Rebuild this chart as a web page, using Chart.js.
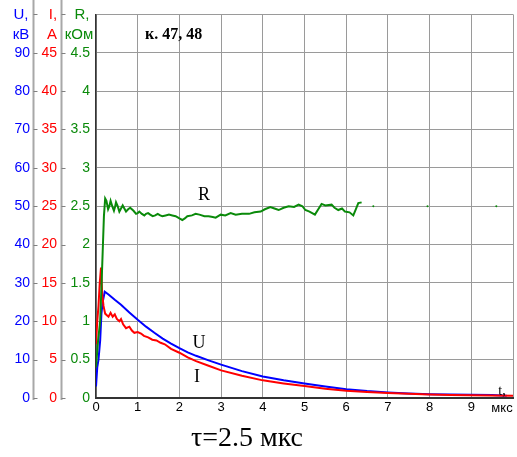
<!DOCTYPE html>
<html>
<head>
<meta charset="utf-8">
<script src="https://cdn.jsdelivr.net/npm/chart.js"></script>
<style>
    body { margin: 0; background: #fff; }
</style>
</head>
<body>
<canvas id="grafico" width="517" height="457"></canvas>
<script>
// tiempo, мкс
const tU = [0, 0.03, 0.06, 0.1, 0.13, 0.16, 0.21, 0.3, 0.45, 0.6, 0.8, 1.0, 1.2, 1.4, 1.6, 1.8, 2.0, 2.2, 2.4, 2.7,
    3.0, 3.5, 4.0, 4.5, 5.0, 5.5, 6.0, 6.5, 7.0, 7.5, 8.0, 8.5, 9.0, 9.5, 9.85];
// U, кВ
const U = [3, 8, 10, 15, 22, 25, 27.7, 27, 25.6, 24.3, 22.3, 20.4, 18.6, 17, 15.5, 14.2, 13, 11.9, 11, 9.8,
    8.7, 7.0, 5.6, 4.6, 3.8, 3.0, 2.3, 1.8, 1.45, 1.2, 1.0, 0.9, 0.85, 0.75, 0.6];

const tI = [0, 0.03, 0.06, 0.09, 0.12, 0.15, 0.18, 0.22, 0.26, 0.3, 0.35, 0.4, 0.45, 0.5, 0.56, 0.6, 0.65, 0.72, 0.8, 0.86,
    0.92, 1.0, 1.08, 1.15, 1.25, 1.35, 1.45, 1.55, 1.65, 1.8, 2.0, 2.2, 2.4, 2.7, 3.0, 3.5, 4.0, 4.5, 5.0, 5.5,
    6.0, 6.5, 7.0, 7.5, 8.0, 8.5, 9.0, 9.5, 10];
// I, A
const I = [7, 10, 12, 15, 17, 13.5, 12, 11, 10.8, 10.6, 11.1, 10.6, 10.9, 10.3, 10, 10.3, 9.6, 9.1, 9.3, 8.8,
    8.5, 8.6, 8.4, 8.1, 7.9, 7.6, 7.5, 7.2, 7.0, 6.4, 5.9, 5.3, 4.8, 4.2, 3.6, 2.9, 2.3, 1.9, 1.55, 1.2,
    0.95, 0.78, 0.65, 0.55, 0.47, 0.4, 0.35, 0.32, 0.3];

const tR = [0, 0.05, 0.1, 0.13, 0.16, 0.19, 0.22, 0.25, 0.29, 0.32, 0.35, 0.39, 0.43, 0.46, 0.48, 0.52, 0.56, 0.6, 0.64, 0.68,
    0.72, 0.77, 0.82, 0.9, 0.96, 1.0, 1.04, 1.1, 1.16, 1.2, 1.25, 1.3, 1.36, 1.42, 1.48, 1.54, 1.59, 1.67, 1.75, 1.83,
    1.91, 2.0, 2.07, 2.13, 2.19, 2.3, 2.39, 2.48, 2.6, 2.7, 2.8, 2.87, 2.93, 2.99, 3.1, 3.23, 3.35, 3.5, 3.67, 3.8,
    3.95, 4.05, 4.18, 4.28, 4.38, 4.5, 4.62, 4.75, 4.86, 4.95, 5.02, 5.12, 5.25, 5.33, 5.41, 5.5, 5.65, 5.72, 5.81, 5.9,
    5.97, 6.08, 6.17, 6.23, 6.29, 6.37];
// R, кОм
const R = [0.4, 0.75, 1.0, 1.43, 1.9, 2.37, 2.6, 2.57, 2.46, 2.5, 2.57, 2.5, 2.44, 2.5, 2.55, 2.5, 2.43, 2.47, 2.51, 2.47,
    2.43, 2.46, 2.48, 2.44, 2.4, 2.41, 2.43, 2.4, 2.38, 2.4, 2.41, 2.39, 2.37, 2.38, 2.4, 2.38, 2.37, 2.38, 2.39, 2.38,
    2.37, 2.34, 2.32, 2.34, 2.37, 2.38, 2.40, 2.39, 2.37, 2.37, 2.36, 2.35, 2.37, 2.39, 2.38, 2.41, 2.39, 2.40, 2.40, 2.42,
    2.43, 2.46, 2.49, 2.47, 2.45, 2.48, 2.5, 2.49, 2.52, 2.5, 2.45, 2.43, 2.39, 2.46, 2.53, 2.51, 2.52, 2.48, 2.45, 2.47,
    2.43, 2.42, 2.38, 2.46, 2.54, 2.55];
// puntos sueltos de R
const tRsuelto = [6.65, 7.95, 9.6];
const Rsuelto = [2.5, 2.5, 2.5];

const AZUL = '#0000ff', ROJO = '#ff0000', VERDE = '#0a8a0a';

function puntos(t, v) {
    return t.map((x, i) => ({ x: x, y: v[i] }));
}

// textos y ejes grises
const decoracion = {
    id: 'decoracion',
    afterDraw(chart) {
        const c = chart.ctx;
        const area = chart.chartArea;
        c.save();

        // lineas grises de U e I con marcas hacia la derecha
        ['yU', 'yI'].forEach(id => {
            const s = chart.scales[id];
            const x = Math.round(s.right) + 0.5;
            c.strokeStyle = '#a8a8a8';
            c.lineWidth = 2;
            c.beginPath();
            c.moveTo(x, 0);
            c.lineTo(x, area.bottom + 2);
            c.stroke();
            c.strokeStyle = '#808080';
            c.lineWidth = 1;
            s.ticks.forEach(tk => {
                const y = Math.round(s.getPixelForValue(tk.value)) + 0.5;
                c.beginPath();
                c.moveTo(x, y);
                c.lineTo(x + 4, y);
                c.stroke();
            });
        });

        c.textAlign = 'center';
        c.textBaseline = 'middle';
        c.font = '15px "Liberation Sans", Arial, sans-serif';
        c.fillStyle = AZUL;
        c.fillText('U,', 21, 15);
        c.fillText('кВ', 21, 35);
        c.fillStyle = ROJO;
        c.fillText('I,', 53, 15);
        c.fillText('A', 52, 35);
        c.fillStyle = VERDE;
        c.fillText('R,', 82, 15);
        c.fillText('кОм', 79, 35);

        c.fillStyle = '#000';
        c.font = '13px "Liberation Sans", Arial, sans-serif';
        c.fillText('мкс', 502, 408);

        c.textBaseline = 'alphabetic';
        c.font = '14px "Liberation Serif", "Times New Roman", serif';
        c.fillText('t,', 502, 395);

        c.font = '18px "Liberation Serif", "Times New Roman", serif';
        c.fillText('R', 204, 200);
        c.fillText('U', 199, 348);
        c.fillText('I', 197, 382);

        c.font = 'bold 16px "Liberation Serif", "Times New Roman", serif';
        c.textAlign = 'left';
        c.fillText('к. 47, 48', 145, 39);

        c.textAlign = 'center';
        c.font = '28px "Liberation Serif", "Times New Roman", serif';
        c.fillText('τ=2.5 мкс', 247, 446);
        c.restore();
    }
};

const fuenteEje = { family: '"Liberation Sans", Arial, sans-serif', size: 14 };

new Chart(document.getElementById('grafico'), {
    type: 'line',
    data: {
        datasets: [
            { label: 'R', data: puntos(tR, R), yAxisID: 'yR', borderColor: VERDE, borderWidth: 2, order: 0 },
            { label: 'R2', data: puntos(tRsuelto, Rsuelto), yAxisID: 'yR', showLine: false,
              pointRadius: 1, pointBackgroundColor: VERDE, pointBorderWidth: 0, order: 0 },
            { label: 'I', data: puntos(tI, I), yAxisID: 'yI', borderColor: ROJO, borderWidth: 2, order: 1 },
            { label: 'U', data: puntos(tU, U), yAxisID: 'yU', borderColor: AZUL, borderWidth: 2, order: 2 }
        ]
    },
    options: {
        responsive: false,
        animation: false,
        layout: { padding: { left: 0, right: 1, top: 8, bottom: 37 } },
        elements: {
            line: { tension: 0 },
            point: { radius: 0 }
        },
        plugins: {
            legend: { display: false },
            tooltip: { enabled: false }
        },
        scales: {
            x: {
                type: 'linear',
                min: 0,
                max: 10,
                ticks: {
                    stepSize: 1,
                    color: '#000',
                    padding: 2,
                    font: { family: fuenteEje.family, size: 13 },
                    callback: v => v < 10 ? v : ''
                },
                grid: { color: '#9a9a9a', lineWidth: 1, drawTicks: false },
                border: { color: '#333', width: 2 },
                afterFit: s => { s.height = 22; }
            },
            // el primero queda junto al area del grafico
            yR: {
                position: 'left',
                min: 0,
                max: 5,
                ticks: { stepSize: 0.5, color: VERDE, padding: 6, font: fuenteEje,
                    callback: v => v < 5 ? v : '' },
                grid: { color: '#9a9a9a', lineWidth: 1, drawTicks: false },
                border: { color: '#333', width: 1.5 },
                afterFit: s => { s.width = 35; }
            },
            yI: {
                position: 'left',
                min: 0,
                max: 50,
                ticks: { stepSize: 5, color: ROJO, padding: 4, font: fuenteEje,
                    callback: v => v < 50 ? v : '' },
                grid: { display: false, drawTicks: false },
                border: { display: false },
                afterFit: s => { s.width = 28; }
            },
            yU: {
                position: 'left',
                min: 0,
                max: 100,
                ticks: { stepSize: 10, color: AZUL, padding: 3, font: fuenteEje,
                    callback: v => v < 100 ? v : '' },
                grid: { display: false, drawTicks: false },
                border: { display: false },
                afterFit: s => { s.width = 33; }
            }
        }
    },
    plugins: [decoracion]
});
</script>
</body>
</html>
